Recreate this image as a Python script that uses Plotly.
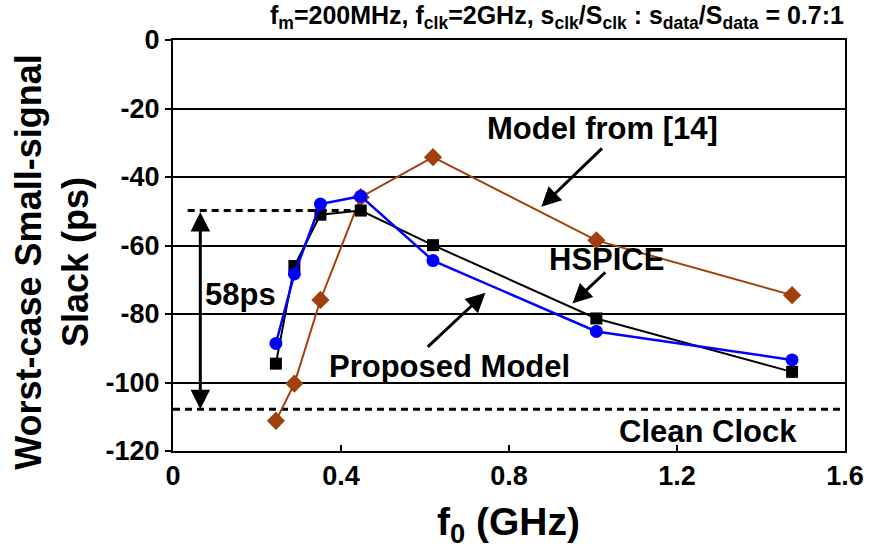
import plotly.graph_objects as go

# Oscillation frequency f0 (GHz) of each simulated point
f0_ghz = [0.245, 0.289, 0.351, 0.447, 0.619, 1.008, 1.474]

# Worst-case small-signal slack (ps) for each method
slack_hspice = [-94.5, -66.0, -51.0, -49.8, -59.9, -81.3, -96.9]
slack_proposed = [-88.6, -68.3, -47.9, -45.6, -64.4, -85.1, -93.4]
slack_model14 = [-111.2, -100.3, -75.9, -45.9, -34.2, -58.5, -74.5]

# Reference levels: best HSPICE slack and clean-clock slack
slack_best = -49.8
slack_spread = 58
slack_clean = slack_best - slack_spread

x_ticks = [0, 0.4, 0.8, 1.2, 1.6]
x_tick_text = ["0", "0.4", "0.8", "1.2", "1.6"]
y_ticks = [0, -20, -40, -60, -80, -100, -120]
y_tick_text = ["0", "-20", "-40", "-60", "-80", "-100", "-120"]

FONT = "Liberation Sans, Arial, sans-serif"
BROWN = "#A0410D"

fig = go.Figure()

fig.add_trace(go.Scatter(
    x=f0_ghz, y=slack_model14, mode="lines+markers", name="Model from [14]",
    line=dict(color=BROWN, width=2),
    marker=dict(symbol="diamond", size=14, color=BROWN),
))
fig.add_trace(go.Scatter(
    x=f0_ghz, y=slack_hspice, mode="lines+markers", name="HSPICE",
    line=dict(color="black", width=2),
    marker=dict(symbol="square", size=12, color="black"),
))
fig.add_trace(go.Scatter(
    x=f0_ghz, y=slack_proposed, mode="lines+markers", name="Proposed Model",
    line=dict(color="#0000FF", width=2.5),
    marker=dict(symbol="circle", size=13, color="#0000FF"),
))

# Dashed reference levels
fig.add_shape(type="line", xref="x", yref="y", x0=0.035, x1=f0_ghz[3],
              y0=slack_best, y1=slack_best,
              line=dict(color="black", width=3, dash="7px,5px"), layer="below")
fig.add_shape(type="line", xref="x", yref="y", x0=0, x1=1.6,
              y0=slack_clean, y1=slack_clean,
              line=dict(color="black", width=3, dash="7px,5px"), layer="below")

ann_font = dict(family=FONT, size=31, color="black", weight="bold")

annotations = [
    # double-headed span arrow between the two dashed levels
    dict(x=0.065, y=slack_clean, ax=0.065, ay=slack_best, xref="x", yref="y",
         axref="x", ayref="y", text="", showarrow=True, arrowhead=2,
         arrowside="end+start", arrowsize=1.3, arrowwidth=3, arrowcolor="black"),
    dict(x=0.161, y=-74.2, xref="x", yref="y", text=f"{slack_spread}ps",
         showarrow=False, font=ann_font),
    dict(x=1.023, y=-25.7, xref="x", yref="y", text="Model from [14]",
         showarrow=False, font=ann_font),
    dict(x=0.877, y=-48.7, ax=1.025, ay=-31.2, xref="x", yref="y",
         axref="x", ayref="y", text="", showarrow=True, arrowhead=2,
         arrowsize=1.3, arrowwidth=3, arrowcolor="black"),
    dict(x=1.033, y=-64.0, xref="x", yref="y", text="HSPICE",
         showarrow=False, font=ann_font),
    dict(x=0.951, y=-76.9, ax=1.033, ay=-67.4, xref="x", yref="y",
         axref="x", ayref="y", text="", showarrow=True, arrowhead=2,
         arrowsize=1.3, arrowwidth=3, arrowcolor="black"),
    dict(x=0.659, y=-95.4, xref="x", yref="y", text="Proposed Model",
         showarrow=False, font=ann_font),
    dict(x=0.744, y=-73.8, ax=0.603, ay=-90.0, xref="x", yref="y",
         axref="x", ayref="y", text="", showarrow=True, arrowhead=2,
         arrowsize=1.3, arrowwidth=3, arrowcolor="black"),
    dict(x=1.274, y=-114.2, xref="x", yref="y", text="Clean Clock",
         showarrow=False, font=ann_font),
    # chart title
    dict(x=563, y=17, xref="paper", yref="paper", text=(
        "f<sub>m</sub>=200MHz, f<sub>clk</sub>=2GHz, "
        "s<sub>clk</sub>/S<sub>clk</sub> : s<sub>data</sub>/S<sub>data</sub> = 0.7:1"),
        showarrow=False, font=dict(family=FONT, size=25, color="black", weight="bold")),
    # axis titles
    dict(x=513, y=524, xref="paper", yref="paper", text="f<sub>0</sub> (GHz)",
         showarrow=False, font=dict(family=FONT, size=39, color="black", weight="bold")),
    dict(x=50, y=262, xref="paper", yref="paper",
         text="Worst-case Small-signal<br>Slack (ps)", textangle=-90,
         showarrow=False, font=dict(family=FONT, size=36, color="black", weight="bold")),
]

# Convert the title/axis-title pixel anchors into paper fractions
L, R, T, B = 173, 21, 40, 97
PW, PH = 876 - L - R, 548 - T - B
for a in annotations:
    if a.get("xref") == "paper":
        a["x"] = (a["x"] - L) / PW
        a["y"] = (548 - B - a["y"]) / PH
        a["xanchor"] = "center"
        a["yanchor"] = "middle"

fig.update_layout(
    width=876, height=548,
    margin=dict(l=L, r=R, t=T, b=B),
    paper_bgcolor="white", plot_bgcolor="white",
    showlegend=False,
    annotations=annotations,
    xaxis=dict(range=[0, 1.6], tickvals=x_ticks, ticktext=x_tick_text,
               ticks="inside", ticklen=6, tickwidth=2, tickcolor="black",
               showgrid=False, zeroline=False,
               showline=True, linecolor="black", linewidth=2, mirror=True,
               tickfont=dict(family=FONT, size=27, color="black", weight="bold")),
    yaxis=dict(range=[-120, 0], tickvals=y_ticks, ticktext=y_tick_text,
               ticks="outside", ticklen=6, tickwidth=2, tickcolor="black",
               showgrid=True, gridcolor="black", gridwidth=2, zeroline=False,
               showline=True, linecolor="black", linewidth=2, mirror=True,
               tickfont=dict(family=FONT, size=27, color="black", weight="bold")),
)

fig.write_html("out.html")
